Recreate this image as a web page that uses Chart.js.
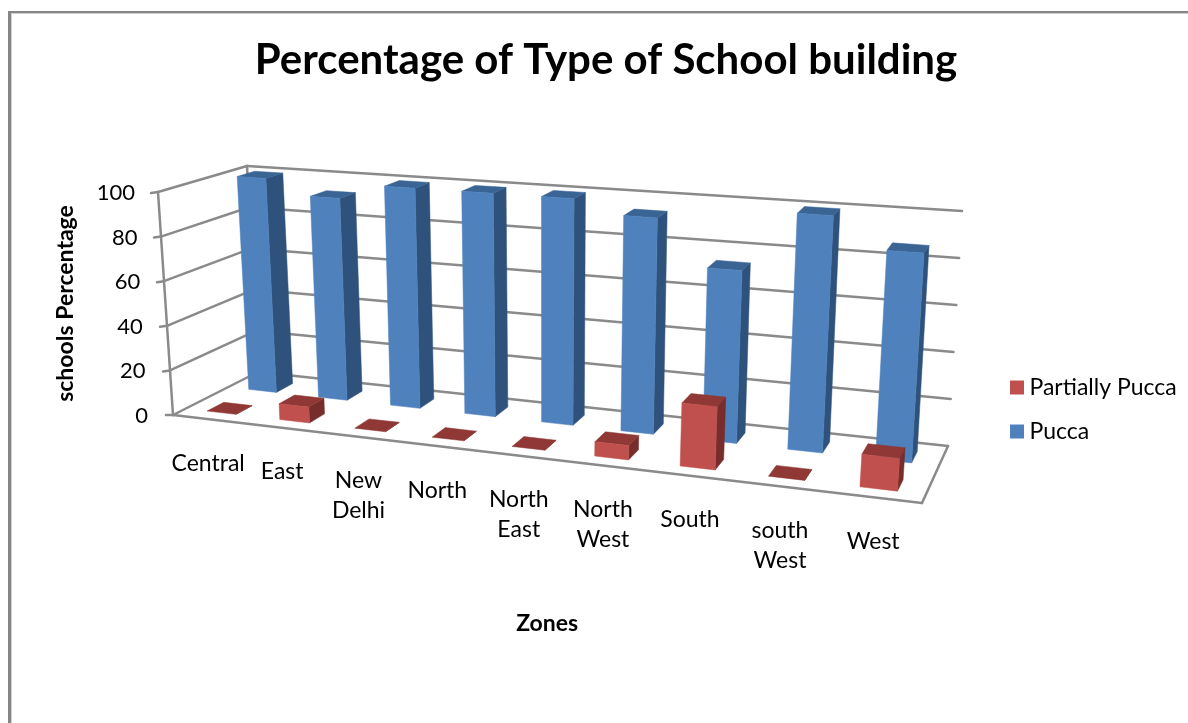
<!DOCTYPE html>
<html><head><meta charset="utf-8">
<style>html,body{margin:0;padding:0;background:#fff}canvas{display:block}</style>
<script src="https://cdn.jsdelivr.net/npm/chart.js@4"></script>
</head><body><canvas id="c" width="1188" height="723"></canvas>
<script>
const zones = [['Central'],['East'],['New','Delhi'],['North'],['North','East'],['North','West'],['South'],['south','West'],['West']];
const partiallyPucca = [0, 7, 0, 0, 0, 6, 26, 0, 13];
const pucca = [100, 93, 100, 100, 100, 94, 74, 100, 87];
const yTicks = [0, 20, 40, 60, 80, 100];

const FONT = 'Lato, Carlito, sans-serif';
const GRID = '#8a8a8a';
// screen corners of the 3D plot box
const BOX = {
  f0:{l:[173,415],r:[922,503]}, b0:{l:[258,372],r:[948,446]},
  f1:{l:[158,192],r:[940,247]}, b1:{l:[247,166],r:[962,211]}
};
const W = 1.16;
const warp = u => u / (u + W * (1 - u));
const mix = (a,b,t) => [a[0]+(b[0]-a[0])*t, a[1]+(b[1]-a[1])*t];
function proj(u,d,v){
  const bot = mix(mix(BOX.f0.l,BOX.f0.r,u), mix(BOX.b0.l,BOX.b0.r,u), d);
  const top = mix(mix(BOX.f1.l,BOX.f1.r,u), mix(BOX.b1.l,BOX.b1.r,u), d);
  return mix(bot,top,v);
}
function poly(ctx,pts,fill){
  ctx.beginPath(); pts.forEach((p,i)=> i?ctx.lineTo(p[0],p[1]):ctx.moveTo(p[0],p[1])); ctx.closePath();
  ctx.fillStyle=fill; ctx.fill();
  ctx.strokeStyle=fill; ctx.lineWidth=0.5; ctx.stroke();
}
function line(ctx,a,b){ctx.beginPath();ctx.moveTo(a[0],a[1]);ctx.lineTo(b[0],b[1]);ctx.stroke();}

const SHADES = [
  {front:'#C0504D', top:'#8F3835', side:'#772D2B'},
  {front:'#4F81BD', top:'#3A6494', side:'#2F527C'}
];
const ROW = [0.25, 0.75], HALF_DEPTH = 0.10;

const plugin3d = {
  id:'box3d',
  afterLayout(chart){
    const t = chart.titleBlock; t.left = 0; t.right = 1212;
    const l = chart.legend; l.left = 1016 - 21; l.top = 376 - 21; l.right = 1188; l.bottom = 723;
  },
  beforeDraw(chart){
    const {ctx} = chart;
    ctx.save();
    ctx.fillStyle='#fff'; ctx.fillRect(0,0,1188,723);
    ctx.fillStyle='#d0d0d0'; ctx.fillRect(11,13,1177,1); ctx.fillRect(11,13,1,710);
    ctx.fillStyle='#868686'; ctx.fillRect(8,11,1180,2); ctx.fillRect(8,11,3,712);
    ctx.restore();
    const xs = chart.scales.x, ys = chart.scales.y;
    xs.getLabelItems().forEach((it,i)=>{
      const u = warp((xs.getPixelForTick(i)-xs.left)/xs.width);
      const p = proj(u,0,0);
      it.options.translation = [p[0]-1, p[1]+44];
      it.options.textBaseline='middle'; it.options.textAlign='center'; it.textOffset=0;
    });
    ys.getLabelItems().forEach((it,i)=>{
      if(it._moved) return; it._moved = true;
      const v = ys.ticks[i].value / 100;
      it.options.translation[0] += -13 * v;
      it.options.translation[1] += 1;
    });
  },
  beforeDatasetsDraw(chart){
    const {ctx, scales:{y:ys}, chartArea:a} = chart;
    ctx.save(); ctx.strokeStyle=GRID; ctx.lineWidth=2.5; ctx.lineCap='round';
    line(ctx,proj(0,0,0),proj(1,0,0)); line(ctx,proj(1,0,0),proj(1,1,0));
    line(ctx,proj(0,1,0),proj(0,1,1));
    line(ctx,proj(0,0,0),proj(0,0,1));
    ys.ticks.forEach(t=>{
      const v=(a.bottom-ys.getPixelForValue(t.value))/a.height;
      const f=proj(0,0,v), b=proj(0,1,v), r=proj(1,1,v);
      line(ctx,[f[0]-7,f[1]+(v===0?0:1)],f); line(ctx,f,b); line(ctx,b,r);
    });
    ctx.restore();
  },
  beforeDatasetDraw(chart,args){
    const {ctx, chartArea:a} = chart, i=args.index, c=SHADES[i];
    const d0=ROW[i]-HALF_DEPTH, d1=ROW[i]+HALF_DEPTH;
    args.meta.data.forEach(el=>{
      const u0=warp((el.x-el.width/2-a.left)/a.width), u1=warp((el.x+el.width/2-a.left)/a.width);
      const v=(el.base-el.y)/a.height;
      poly(ctx,[proj(u1,d0,0),proj(u1,d1,0),proj(u1,d1,v),proj(u1,d0,v)],c.side);
      poly(ctx,[proj(u0,d0,v),proj(u1,d0,v),proj(u1,d1,v),proj(u0,d1,v)],c.top);
      if(v>0) poly(ctx,[proj(u0,d0,0),proj(u1,d0,0),proj(u1,d0,v),proj(u0,d0,v)],c.front);
    });
    return false;
  }
};

new Chart(document.getElementById('c'),{
  type:'bar',
  data:{labels:zones,datasets:[
    {label:'Partially Pucca',data:partiallyPucca,backgroundColor:'#C0504D',borderWidth:0,grouped:false,barPercentage:0.4,categoryPercentage:1},
    {label:'Pucca',data:pucca,backgroundColor:'#4F81BD',borderWidth:0,grouped:false,barPercentage:0.4,categoryPercentage:1}
  ]},
  plugins:[plugin3d],
  options:{
    responsive:false,animation:false,devicePixelRatio:1,
    layout:{padding:{left:50,top:30,right:60,bottom:88}},
    plugins:{
      tooltip:{enabled:false},
      title:{display:true,text:'Percentage of Type of School building',color:'#000',
        font:{family:FONT,size:42,weight:'bold',lineHeight:1.2},padding:{top:5,bottom:106.6}},
      legend:{display:true,position:'right',align:'start',
        labels:{color:'#000',font:{family:FONT,size:23},boxWidth:2,boxHeight:2,padding:21,
          generateLabels(chart){
            return chart.data.datasets.map((ds,i)=>({text:ds.label,fillStyle:ds.backgroundColor,strokeStyle:ds.backgroundColor,lineWidth:12,datasetIndex:i,hidden:false}));
          }}}
    },
    scales:{
      x:{type:'category',grid:{display:false,drawTicks:false},border:{display:false},
        ticks:{color:'#000',autoSkip:false,maxRotation:0,minRotation:0,padding:0,font:{family:FONT,size:23,lineHeight:30/23}},
        title:{display:true,text:'Zones',color:'#000',font:{family:FONT,size:23,weight:'bold',lineHeight:1},padding:0},
        afterFit(s){s.height=220;}},
      y:{type:'linear',min:yTicks[0],max:yTicks[yTicks.length-1],grid:{display:false,drawTicks:false},border:{display:false},
        ticks:{color:'#000',stepSize:20,padding:10,font:{family:FONT,size:22}},
        title:{display:true,text:'schools Percentage',color:'#000',font:{family:FONT,size:23,weight:'bold',lineHeight:1.2},padding:{top:2,bottom:0}},
        afterFit(s){s.width=108;}}
    }
  }
});
</script></body></html>
